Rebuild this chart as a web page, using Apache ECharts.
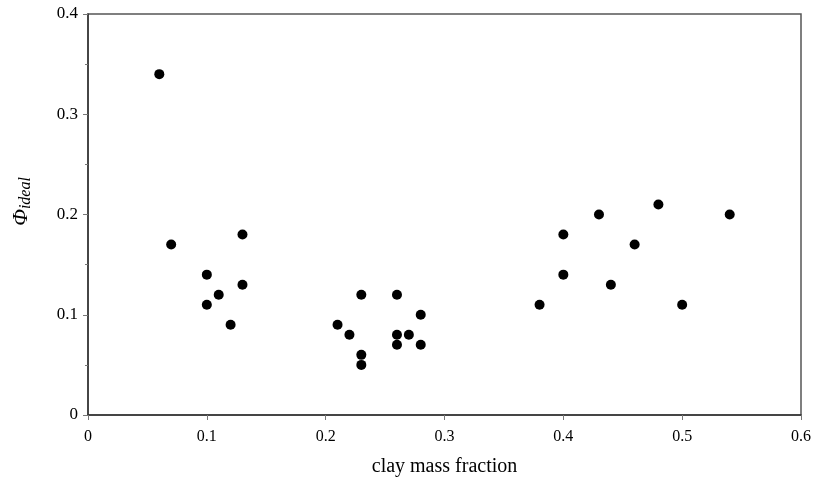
<!DOCTYPE html>
<html>
<head>
<meta charset="utf-8">
<script src="https://cdn.jsdelivr.net/npm/echarts@6/dist/echarts.min.js"></script>
<style>
html, body { margin: 0; padding: 0; background: #fff; }
#chart { width: 816px; height: 484px; }
</style>
</head>
<body>
<div id="chart"></div>
<script>
// clay mass fraction
const clayFraction = [0.06, 0.07, 0.10, 0.10, 0.11, 0.12, 0.13, 0.13,
    0.21, 0.22, 0.23, 0.23, 0.23, 0.26, 0.26, 0.26, 0.27, 0.28, 0.28,
    0.38, 0.40, 0.40, 0.43, 0.44, 0.46, 0.48, 0.50, 0.54]
// Phi ideal
const phiIdeal = [0.34, 0.17, 0.14, 0.11, 0.12, 0.09, 0.18, 0.13,
    0.09, 0.08, 0.12, 0.06, 0.05, 0.12, 0.08, 0.07, 0.08, 0.10, 0.07,
    0.11, 0.18, 0.14, 0.20, 0.13, 0.17, 0.21, 0.11, 0.20]

const font = 'Liberation Serif, Times New Roman, serif'
const chart = echarts.init(document.getElementById('chart'))

const points = clayFraction.map((x, i) => [x, phiIdeal[i]])

chart.setOption({
    animation: false,
    backgroundColor: '#fff',
    grid: {
        left: 88,
        right: 15,
        top: 14,
        bottom: 69,
        containLabel: false,
        outerBoundsMode: 'none',
        show: true,
        borderColor: '#555',
        borderWidth: 1.5
    },
    xAxis: {
        type: 'value',
        min: 0,
        max: 0.6,
        interval: 0.1,
        name: 'clay mass fraction',
        nameLocation: 'middle',
        nameGap: 42,
        nameTextStyle: { fontFamily: font, fontSize: 20, color: '#000' },
        axisLine: { show: true, lineStyle: { color: '#333', width: 1.5 } },
        axisTick: { show: true, length: 5, lineStyle: { color: '#777' } },
        axisLabel: { fontFamily: font, fontSize: 16, color: '#000', margin: 14 },
        splitLine: { show: false }
    },
    yAxis: {
        type: 'value',
        min: 0,
        max: 0.4,
        interval: 0.1,
        name: '{phi|Φ}{sub|ideal}',
        nameLocation: 'middle',
        nameGap: 54,
        nameTextStyle: {
            padding: [0, 0, 0, 26],
            rich: {
                phi: { fontFamily: font, fontSize: 22, fontStyle: 'italic', color: '#000' },
                sub: { fontFamily: font, fontSize: 16, fontStyle: 'italic', color: '#000', verticalAlign: 'bottom', padding: [10, 0, 0, 0] }
            }
        },
        axisLine: { show: true, lineStyle: { color: '#333', width: 1.5 } },
        axisTick: { show: true, length: 5, lineStyle: { color: '#777' } },
        minorTick: { show: true, splitNumber: 2, length: 3, lineStyle: { color: '#777' } },
        axisLabel: { fontFamily: font, fontSize: 17, color: '#000', margin: 10 },
        splitLine: { show: false }
    },
    series: [{
        type: 'scatter',
        data: points,
        symbol: 'circle',
        symbolSize: 10,
        itemStyle: { color: '#000', opacity: 1 }
    }]
})
</script>
</body>
</html>
